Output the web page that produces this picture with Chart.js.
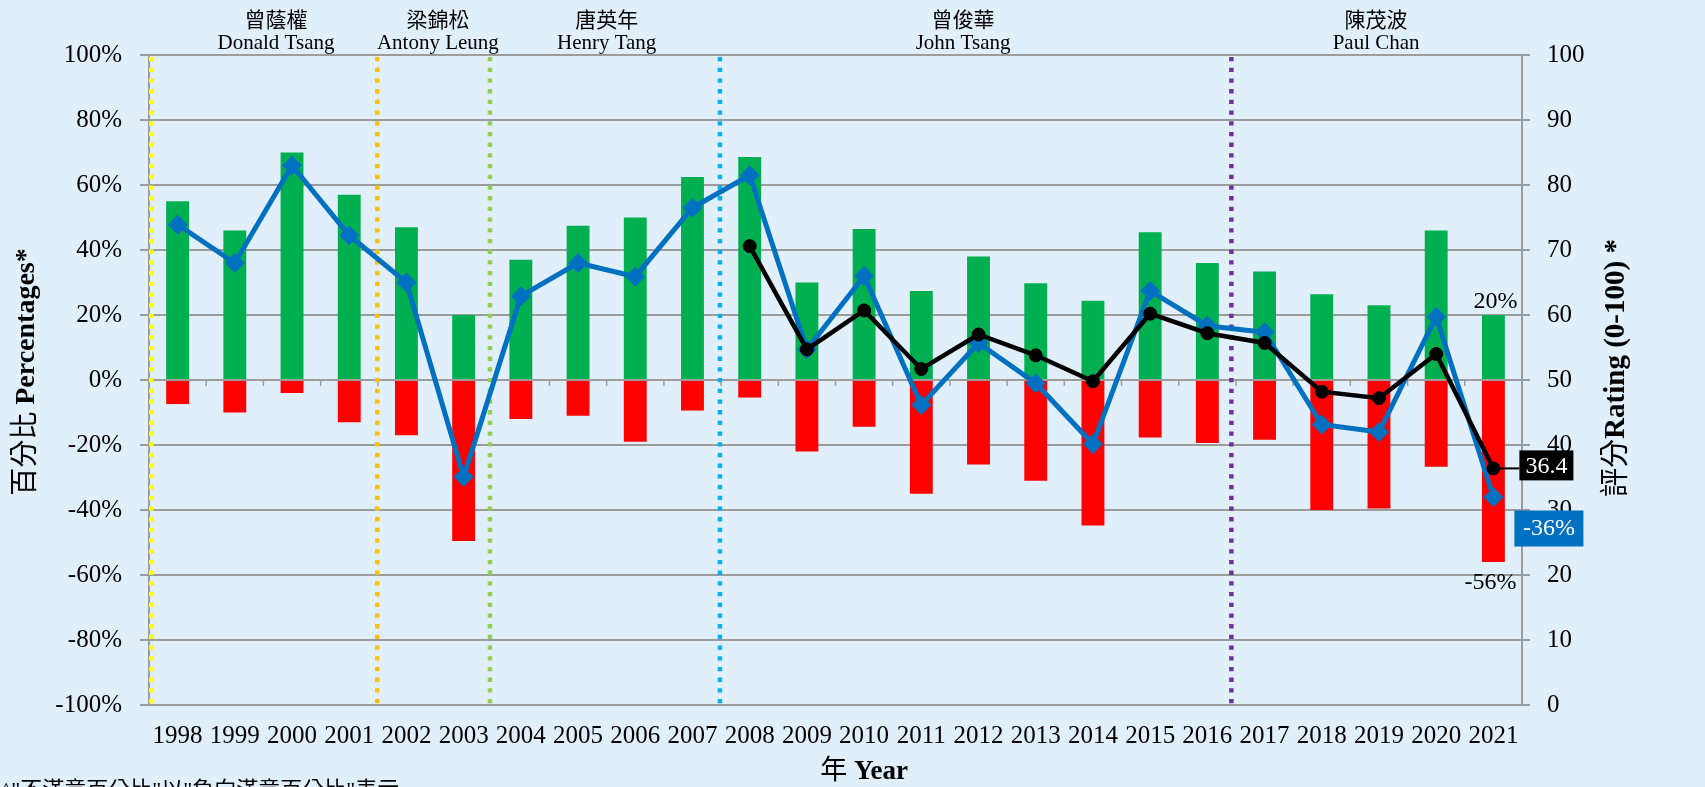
<!DOCTYPE html>
<html><head><meta charset="utf-8">
<script src="https://cdn.jsdelivr.net/npm/chart.js@4.4.1/dist/chart.umd.min.js"></script>
<style>html,body{margin:0;padding:0;background:#E1EFFA;overflow:hidden}canvas{display:block}</style>
</head><body>
<canvas id="c" width="1705" height="787"></canvas>
<script>
// ---- data ----
const years = ['1998','1999','2000','2001','2002','2003','2004','2005','2006','2007','2008','2009','2010','2011','2012','2013','2014','2015','2016','2017','2018','2019','2020','2021'];
const satisfied = [55,46,70,57,47,20,37,47.5,50,62.5,68.6,30,46.5,27.4,38,29.8,24.4,45.5,36,33.4,26.4,23,46,20];
const dissatisfied = [-7.4,-10,-4,-13,-17,-49.5,-12,-11,-19,-9.4,-5.4,-22,-14.4,-35,-26,-31,-44.8,-17.7,-19.4,-18.4,-40,-39.5,-26.7,-56];
const netSatisfaction = [47.8,36,66,44.5,30,-29.8,25.8,36,31.8,53,63,9.4,32,-7.7,11.4,-1,-19.7,27.4,16.7,14.7,-13.7,-16,19.4,-36];
const rating = [null,null,null,null,null,null,null,null,null,null,70.6,54.7,60.7,51.7,57,53.8,49.8,60.2,57.2,55.7,48.2,47.2,54,36.4];
const pctTickLabels = ['-100%','-80%','-60%','-40%','-20%','0%','20%','40%','60%','80%','100%'];
const ratingTickLabels = ['0','10','20','30','40','50','60','70','80','90','100'];
const termNamesZh = ['曾蔭權','梁錦松','唐英年','曾俊華','陳茂波'];
const termNamesEn = ['Donald Tsang','Antony Leung','Henry Tang','John Tsang','Paul Chan'];
const termStarts = [-0.46, 3.49, 5.46, 9.48, 18.42];      // on category axis
const termLabelCenters = [1.72, 4.55, 7.5, 13.73, 20.95]; // on category axis

const SERIF = '"Liberation Serif", "Noto Sans CJK TC", serif';
const GRID = '#9c9c9c';
const termColors = ['#FFFF00','#FFC000','#92D050','#00B0F0','#7030A0'];

function drawMixed(ctx, parts, cx, cy, rot) {
  ctx.save();
  ctx.translate(cx, cy);
  ctx.rotate(rot);
  let total = 0;
  parts.forEach(p => { ctx.font = p.font; p.w = ctx.measureText(p.text).width; total += p.w; });
  let x = -total / 2;
  ctx.textBaseline = 'middle';
  ctx.textAlign = 'left';
  ctx.fillStyle = '#000';
  parts.forEach(p => { ctx.font = p.font; ctx.fillText(p.text, x, 0); x += p.w; });
  ctx.restore();
}

const decor = {
  id: 'decor',
  beforeDraw(chart) {
    const ctx = chart.ctx;
    ctx.save();
    ctx.fillStyle = '#E1EFFA';
    ctx.fillRect(0, 0, chart.width, chart.height);
    ctx.restore();
  },
  beforeDatasetsDraw(chart) {
    const ctx = chart.ctx, xs = chart.scales.x, y = chart.scales.y, a = chart.chartArea;
    ctx.save();
    const y0 = y.getPixelForValue(0);
    ctx.strokeStyle = GRID; ctx.lineWidth = 1.5;
    for (let i = 0; i <= years.length; i++) {
      const px = xs.getPixelForValue(i - 0.5);
      ctx.beginPath(); ctx.moveTo(px, y0); ctx.lineTo(px, y0 + 6); ctx.stroke();
    }
    ctx.lineWidth = 4.5;
    ctx.setLineDash([4.3, 6.4]);
    termStarts.forEach((v, i) => {
      const px = xs.getPixelForValue(v);
      ctx.strokeStyle = termColors[i];
      ctx.beginPath(); ctx.moveTo(px, a.top + 2); ctx.lineTo(px, a.bottom); ctx.stroke();
    });
    ctx.restore();
  },
  afterDatasetsDraw(chart) {
    const ctx = chart.ctx, y = chart.scales.y;
    const last = years.length - 1;
    const barMetaG = chart.getDatasetMeta(2).data[last];
    const barMetaR = chart.getDatasetMeta(3).data[last];
    const rp = chart.getDatasetMeta(0).data[last];
    const np = chart.getDatasetMeta(1).data[last];
    ctx.save();
    ctx.font = '24px ' + SERIF;
    ctx.fillStyle = '#000';
    ctx.textAlign = 'center'; ctx.textBaseline = 'middle';
    ctx.fillText(Math.round(satisfied[last]) + '%', barMetaG.x + 2, y.getPixelForValue(satisfied[last]) - 13);
    ctx.fillText(Math.round(dissatisfied[last]) + '%', barMetaR.x - 3, y.getPixelForValue(dissatisfied[last]) + 21);
    ctx.strokeStyle = '#000'; ctx.lineWidth = 2;
    ctx.beginPath(); ctx.moveTo(rp.x, rp.y); ctx.lineTo(rp.x + 26, rp.y); ctx.stroke();
    ctx.fillStyle = '#000';
    ctx.fillRect(rp.x + 26, rp.y - 18, 54, 30);
    ctx.fillStyle = '#fff';
    ctx.fillText(rating[last].toFixed(1), rp.x + 53, rp.y - 2);
    ctx.fillStyle = '#0070C0';
    ctx.fillRect(np.x + 21, np.y + 13.5, 69, 36);
    ctx.fillStyle = '#fff';
    ctx.fillText(Math.round(netSatisfaction[last]) + '%', np.x + 55.5, np.y + 32);
    ctx.restore();
  },
  afterDraw(chart) {
    const ctx = chart.ctx, xs = chart.scales.x;
    ctx.save();
    ctx.fillStyle = '#000';
    ctx.textAlign = 'center'; ctx.textBaseline = 'middle';
    ctx.font = '21px ' + SERIF;
    termLabelCenters.forEach((v, i) => {
      const px = xs.getPixelForValue(v);
      ctx.fillText(termNamesZh[i], px, 21);
      ctx.fillText(termNamesEn[i], px, 43);
    });
    ctx.restore();
    drawMixed(ctx, [{text: '百分比 ', font: '28px ' + SERIF}, {text: 'Percentages*', font: 'bold 28px ' + SERIF}], 27, 372, -Math.PI / 2);
    drawMixed(ctx, [{text: '評分', font: '29px ' + SERIF}, {text: 'Rating (0-100) *', font: 'bold 29px ' + SERIF}], 1617, 368, -Math.PI / 2);
    drawMixed(ctx, [{text: '年 ', font: '27px ' + SERIF}, {text: 'Year', font: 'bold 27px ' + SERIF}], 864, 772, 0);
    ctx.save();
    ctx.fillStyle = '#000';
    ctx.font = '22px ' + SERIF;
    ctx.textAlign = 'left'; ctx.textBaseline = 'top';
    ctx.fillText('^"不滿意百分比"以"負向滿意百分比"表示', 1, 780);
    ctx.restore();
  }
};

new Chart(document.getElementById('c'), {
  type: 'bar',
  data: {
    labels: years,
    datasets: [
      {type: 'line', label: '評分', data: rating, yAxisID: 'yR', borderColor: '#000', backgroundColor: '#000',
       borderWidth: 4.5, pointStyle: 'circle', pointRadius: 6.5, pointBorderWidth: 1, order: 0},
      {type: 'line', label: '淨值', data: netSatisfaction, yAxisID: 'y', borderColor: '#0070C0', backgroundColor: '#0070C0',
       borderWidth: 5, pointStyle: 'rectRot', pointRadius: 9.5, pointBorderWidth: 1, order: 1},
      {label: '滿意', data: satisfied, yAxisID: 'y', backgroundColor: '#00B050', grouped: false,
       barPercentage: 0.4, categoryPercentage: 1, order: 2},
      {label: '不滿意', data: dissatisfied, yAxisID: 'y', backgroundColor: '#FF0000', grouped: false,
       barPercentage: 0.4, categoryPercentage: 1, order: 3}
    ]
  },
  options: {
    responsive: false, animation: false, devicePixelRatio: 1,
    layout: {padding: {top: 55, left: 0, right: 0, bottom: 0}},
    plugins: {legend: {display: false}, tooltip: {enabled: false}},
    scales: {
      x: {
        offset: true,
        grid: {display: false, drawTicks: false},
        border: {display: false},
        ticks: {font: {family: SERIF, size: 25}, color: '#000', padding: 16, maxRotation: 0, autoSkip: false},
        afterFit(s) { s.height = 82; }
      },
      y: {
        position: 'left', min: -100, max: 100,
        ticks: {stepSize: 20, callback: (v, i) => pctTickLabels[i], font: {family: SERIF, size: 25}, color: '#000', padding: 18},
        grid: {color: GRID, lineWidth: 2, tickLength: 9},
        border: {color: GRID, width: 2},
        afterFit(s) { s.width = 149; }
      },
      yR: {
        position: 'right', min: 0, max: 100,
        ticks: {stepSize: 10, callback: (v, i) => ratingTickLabels[i], font: {family: SERIF, size: 25}, color: '#000', padding: 17},
        grid: {drawOnChartArea: false, color: GRID, lineWidth: 2, tickLength: 8},
        border: {color: GRID, width: 2},
        afterFit(s) { s.width = 183; }
      }
    }
  },
  plugins: [decor]
});
</script>
</body></html>
